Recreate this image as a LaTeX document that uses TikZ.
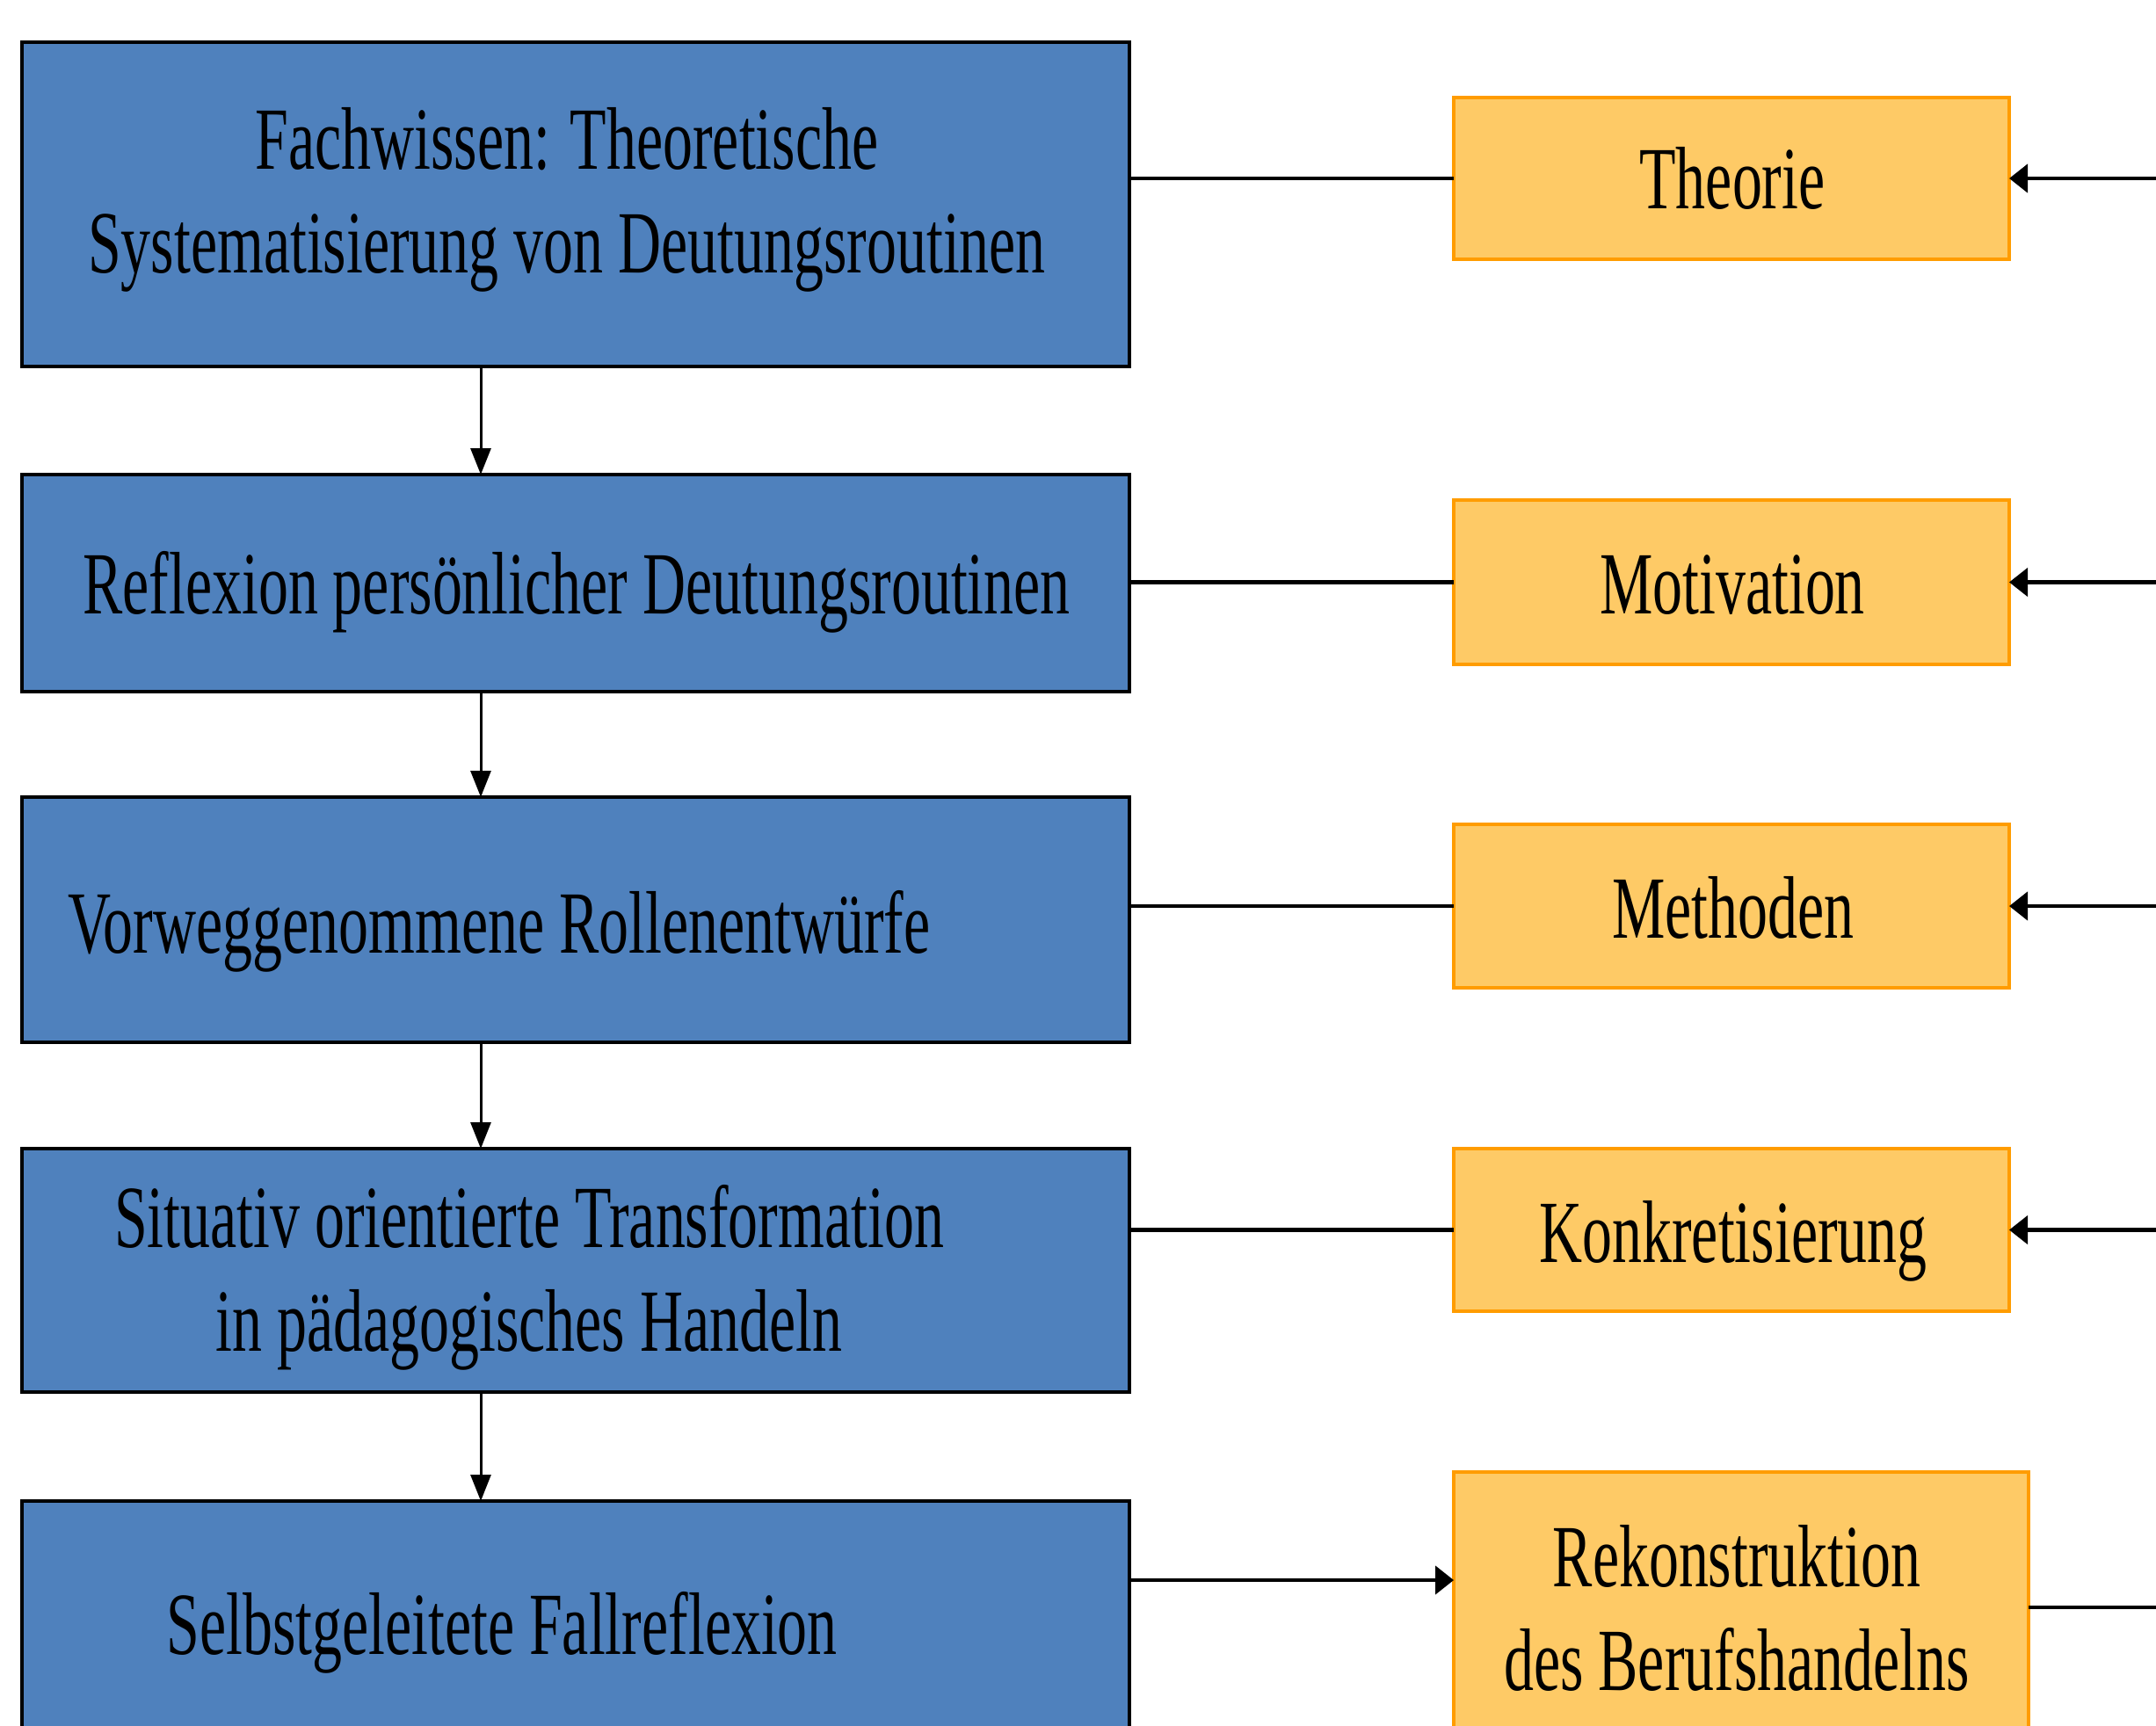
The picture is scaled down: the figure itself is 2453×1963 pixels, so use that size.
\documentclass[tikz,border=0pt]{standalone}
\usepackage{fontspec}
\setmainfont{Liberation Serif}[FakeStretch=0.672]
\usetikzlibrary{arrows.meta}
\definecolor{boxblue}{HTML}{4F81BD}
\definecolor{boxfill}{HTML}{FECA66}
\definecolor{boxline}{HTML}{FF9C00}
\tikzset{
  bluebox/.style={rectangle, draw=black, line width=4pt, fill=boxblue, inner sep=0pt, outer sep=0pt, anchor=north west},
  orangebox/.style={rectangle, draw=boxline, line width=3.5pt, fill=boxfill, inner sep=0pt, outer sep=0pt, anchor=north west},
  txt/.style={inner sep=0pt, anchor=base, align=center, font=\fontsize{101}{118}\selectfont},
  vline/.style={line width=3pt, -{Triangle[length=30pt,width=23pt]}},
  hline/.style={line width=4.5pt},
  harrow/.style={line width=4.5pt, -{Triangle[length=21pt,width=32pt]}}
}
\begin{document}
\begin{tikzpicture}[x=1pt,y=-1pt]
\useasboundingbox (0,0) rectangle (2453,1963);
\clip (0,0) rectangle (2453,1963);
\fill[white] (0,0) rectangle (2453,1963);
% blue boxes
\node[bluebox, minimum width=1260pt, minimum height=369pt] (b1) at (25,48) {};
\node[bluebox, minimum width=1260pt, minimum height=247pt] (b2) at (25,540) {};
\node[bluebox, minimum width=1260pt, minimum height=279pt] (b3) at (25,907) {};
\node[bluebox, minimum width=1260pt, minimum height=277pt] (b4) at (25,1307) {};
\node[bluebox, minimum width=1260pt, minimum height=340pt] (b5) at (25,1708) {};
% orange boxes
\node[orangebox, minimum width=632pt, minimum height=184pt] (o1) at (1654,111) {};
\node[orangebox, minimum width=632pt, minimum height=187pt] (o2) at (1654,569) {};
\node[orangebox, minimum width=632pt, minimum height=186pt] (o3) at (1654,938) {};
\node[orangebox, minimum width=632pt, minimum height=185pt] (o4) at (1654,1307) {};
\node[orangebox, minimum width=654pt, minimum height=340pt] (o5) at (1654,1675) {};
% texts (anchor=base is the baseline of the last line)
\node[txt] (t1) at (645,310) {Fachwissen: Theoretische\\Systematisierung von Deutungsroutinen};
\node[txt] (t2) at (656,698) {Reflexion persönlicher Deutungsroutinen};
\node[txt] (t3) at (568,1084) {Vorweggenommene Rollenentwürfe};
\node[txt] (t4) at (602,1537) {Situativ orientierte Transformation\\in pädagogisches Handeln};
\node[txt] (t5) at (571,1882) {Selbstgeleitete Fallreflexion};
\node[txt] (u1) at (1971,237) {Theorie};
\node[txt] (u2) at (1971,698) {Motivation};
\node[txt] (u3) at (1972,1067) {Methoden};
\node[txt] (u4) at (1972,1436) {Konkretisierung};
\node[txt] (u5) at (1976,1923) {Rekonstruktion\\des Berufshandelns};
% vertical arrows
\coordinate (v1) at (547,0);
\draw[vline] (b1.south -| v1) -- (b2.north -| v1);
\draw[vline] (b2.south -| v1) -- (b3.north -| v1);
\draw[vline] (b3.south -| v1) -- (b4.north -| v1);
\draw[vline] (b4.south -| v1) -- (b5.north -| v1);
% left connectors
\draw[hline] (o1.west -| b1.east) -- (o1.west);
\draw[hline] (o2.west -| b2.east) -- (o2.west);
\draw[hline] (o3.west -| b3.east) -- (o3.west);
\draw[hline] (o4.west -| b4.east) -- (o4.west);
\coordinate (a5) at (0,1798);
\draw[harrow] (a5 -| b5.east) -- (a5 -| o5.west);
% right connectors
\coordinate (rx) at (2460,0);
\coordinate (r5) at (2460,1829);
\draw[harrow] (o1.east -| rx) -- (o1.east);
\draw[harrow] (o2.east -| rx) -- (o2.east);
\draw[harrow] (o3.east -| rx) -- (o3.east);
\draw[harrow] (o4.east -| rx) -- (o4.east);
\draw[hline] (r5 -| o5.east) -- (r5);
\end{tikzpicture}
\end{document}
